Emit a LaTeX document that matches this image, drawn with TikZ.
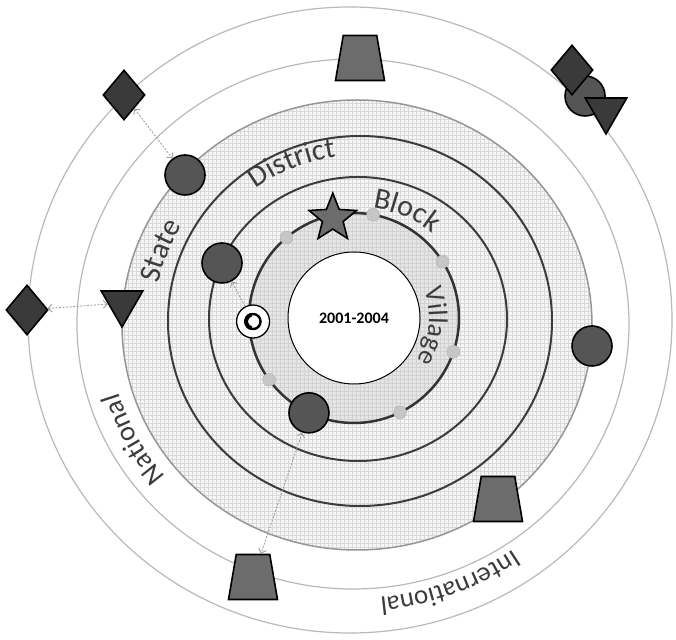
\documentclass[tikz,border=0pt]{standalone}
\usepackage{fontspec}
\setmainfont{Carlito}
\usepackage{xcolor}
\usepackage{tikz}
\usetikzlibrary{arrows.meta,shapes.geometric,decorations.text,positioning}
\definecolor{RingGray}{RGB}{185,185,185}
\definecolor{EdgeGray}{RGB}{150,150,150}
\definecolor{LevelLine}{RGB}{60,60,60}
\definecolor{ActorFill}{RGB}{85,85,85}
\definecolor{DiaFill}{RGB}{58,58,58}
\definecolor{TrapFill}{RGB}{108,108,108}
\definecolor{LabelGray}{RGB}{60,60,60}
\newcommand\lblfont[1]{\fontsize{#1}{#1}\selectfont\color{LabelGray}}
\newcommand\ringtext[6]{%
  \path[decorate, decoration={text along path, text align=center, text={|\lblfont{#6}|#5}}]
    ([shift={(#2+45:#3 and #4)}]#1) arc[start angle=#2+45, end angle=#2-45, x radius=#3, y radius=#4];}

\begin{document}
\begin{tikzpicture}[x=1pt, y=1pt, >=Latex,
  ring/.style={draw=RingGray, line width=1.2pt},
  lvl/.style={draw=LevelLine, line width=2pt},
  actorc/.style={circle, draw=black, line width=1.6pt, fill=ActorFill, minimum size=40pt, inner sep=0pt},
  dot/.style={circle, draw=gray!60, fill=gray!45, minimum size=13pt, inner sep=0pt},
  dia/.style={diamond, draw=black, line width=1.6pt, fill=DiaFill, minimum width=42pt, minimum height=50pt, inner sep=0pt},
  tri/.style={regular polygon, regular polygon sides=3, shape border rotate=180, draw=black, line width=1.6pt,
              fill=DiaFill, minimum size=48pt, inner sep=0pt},
  trap/.style={trapezium, trapezium angle=77, trapezium stretches=true, draw=black, line width=1.6pt,
               fill=TrapFill, minimum width=49pt, minimum height=45pt, inner sep=2pt},
  starm/.style={star, star points=5, star point ratio=2.3, draw=black, line width=1.6pt, fill=TrapFill,
                minimum size=50pt, inner sep=0pt},
  ocir/.style={circle, draw=black, line width=1.3pt, fill=white, minimum size=33pt, inner sep=0pt},
  tip/.tip={Straight Barb[length=4pt,width=8pt]},
  linkd/.style={draw=gray!75, line width=0.9pt, dash pattern=on 2pt off 1.5pt, tip-tip},
  linko/.style={draw=gray!75, line width=0.9pt, dash pattern=on 2pt off 1.5pt, -tip}]
  \useasboundingbox (0,0) rectangle (676,639);
  \fill[white] (0,0) rectangle (676,639);
  \coordinate (oc) at (350,319);
  \coordinate (nc) at (353,315);
  \coordinate (sc) at (357,314);
  \coordinate (dc) at (360,318);
  \coordinate (bc) at (358,320);
  \coordinate (vc) at (354,321);

  \draw[ring] (oc) ellipse[x radius=322, y radius=313];
  \draw[ring] (nc) ellipse[x radius=276, y radius=265];
  \begin{scope}
    \clip (sc) ellipse[x radius=235, y radius=225];
    \fill[gray!7] (sc) ellipse[x radius=235, y radius=225];
    \draw[gray!30, line width=0.5pt, step=4] (110,80) grid (600,550);
  \end{scope}
  \draw[draw=EdgeGray, line width=1.5pt] (sc) ellipse[x radius=235, y radius=225];
  \fill[gray!45, fill opacity=0.35] (vc) circle[radius=105];
  \draw[lvl] (dc) ellipse[x radius=192, y radius=185];
  \draw[lvl] (bc) ellipse[x radius=149, y radius=142];
  \draw[lvl, line width=2.5pt, draw=black!80] (vc) circle[radius=105];
  \node[circle, draw=black, line width=1pt, fill=white, minimum size=132pt, inner sep=0pt,
        font=\bfseries\fontsize{16}{16}\selectfont] (yr) at (vc) {2001-2004};

  \ringtext{vc}{-6}{75}{75}{Village}{27}
  \ringtext{bc}{66}{115}{112}{Block}{30}
  \ringtext{dc}{113}{171}{166}{District}{30}
  \ringtext{sc}{159}{203}{196}{State}{30}
  \ringtext{nc}{208}{245}{237}{National}{28}
  \ringtext{oc}{-69.5}{288}{279}{International}{27}

  \foreach \a in {130,79.5,32.5,-18.8,-64,216}
    \node[dot] at ([shift={(\a:105)}]vc) {};
  \node[starm] (sr) at ([shift={(102:102)}]vc) {};
  \node[ocir] (om) at ([shift={(182:101)}]vc) {};
  \draw[black, line width=2.4pt] (om) circle[radius=7.5];
  \draw[black, line width=4pt] ([shift={(105:7)}]om) arc[start angle=105, end angle=255, radius=7];

  \node[actorc] (st1) at (185,464) {};
  \node[actorc] (bk1) at (222,376) {};
  \node[actorc] (vl1) at ([shift={(244.6:105)}]vc) {};
  \node[actorc] (st2) at (592,293) {};
  \node[actorc] (in1) at (585,543) {};
  \node[dia] (dia1) at (124,544) {};
  \node[dia] (dia2) at (27,329) {};
  \node[dia] (dia3) at (572,569) {};
  \node[tri] (tri1) at (122,336) {};
  \node[tri] (tri2) at (606,529) {};
  \node[trap] (tp1) at (360,581) {};
  \node[trap] (tp2) at (253,62) {};
  \node[trap] (tp3) at (498,140) {};

  \draw[linkd] (dia1) -- (st1);
  \draw[linkd] (dia2) -- (tri1);
  \draw[linko] (om) -- (bk1);
  \draw[linkd] (vl1) -- (tp2);
\end{tikzpicture}
\end{document}
